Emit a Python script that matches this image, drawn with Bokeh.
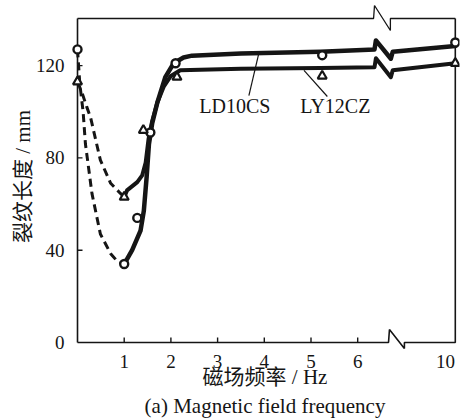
from bokeh.plotting import figure
from bokeh.models import Range1d, FixedTicker, Title, Label
from bokeh.embed import file_html
from bokeh.resources import INLINE

# ---------------- data ----------------
# x is the display position on the broken axis: 0..6.6 is Hz, 10 Hz sits at X10
X10 = 8.09
x_ticks = [1, 2, 3, 4, 5, 6, 7.88]
x_tick_labels = ["1", "2", "3", "4", "5", "6", "10"]
y_ticks = [0, 40, 80, 120]

# measured points (markers)
ld_x = [0, 1.0, 1.28, 1.56, 2.1, 5.24, X10]
ld_y = [127, 34, 54, 91, 121, 124.5, 130]
ly_x = [0, 1.0, 1.41, 2.13, 5.24, X10]
ly_y = [113, 63, 92, 115, 115.5, 121]

# fitted curves
ld_dash_x = [0, 0.05, 0.12, 0.17, 0.31, 0.49, 0.71, 0.86, 1.0]
ld_dash_y = [127, 112, 100, 86, 64.5, 47, 38.5, 35, 34]
ly_dash_x = [0, 0.1, 0.2, 0.28, 0.49, 0.71, 0.92, 1.0]
ly_dash_y = [113, 108, 102, 97.5, 79, 69, 64.6, 63]

ld_solid_x = [1.0, 1.17, 1.35, 1.42, 1.48, 1.53, 1.6, 1.71, 1.88, 2.06, 2.27, 2.45, 3.5, 5.2, 6.36]
ld_solid_y = [34, 40, 48.5, 57, 71.6, 86, 95, 104, 115, 121, 123.5, 124.3, 125.2, 126, 127]
ld_right_x = [6.75, X10]
ld_right_y = [126, 128.5]

ly_solid_x = [1.0, 1.06, 1.28, 1.385, 1.46, 1.52, 1.6, 1.71, 1.85, 2.0, 2.2, 3.5, 5.2, 6.36]
ly_solid_y = [63, 65.9, 69.5, 72.4, 78, 88, 96, 104, 111, 115.5, 118, 118.6, 119, 119.3]
ly_right_x = [6.75, X10]
ly_right_y = [118, 121]

# ---------------- figure ----------------
PX_X = 46.7   # pixels per x unit
PX_Y = 2.308  # pixels per y unit
Y_TOP = 140.4

p = figure(width=461, height=418, output_backend="svg", toolbar_location=None,
           x_range=Range1d(-0.15, 8.18), y_range=Range1d(-3.03, 146.9),
           min_border_left=70, min_border_right=2, min_border_top=3,
           min_border_bottom=69)
p.outline_line_color = None
p.grid.visible = False
p.background_fill_color = "white"

INK = "#151515"
SERIF = "Liberation Serif"
MIX = "Liberation Serif, Noto Sans CJK SC"

# axes: labels only, lines drawn below
for ax in (p.xaxis[0], p.yaxis[0]):
    ax.axis_line_color = None
    ax.major_tick_line_color = None
    ax.minor_tick_line_color = None
    ax.major_label_text_font = SERIF
    ax.major_label_text_font_size = "19px"
    ax.major_label_text_color = INK
    ax.axis_label_text_font = MIX
    ax.axis_label_text_font_size = "21px"
    ax.axis_label_text_font_style = "normal"
    ax.axis_label_text_color = INK

p.xaxis.ticker = FixedTicker(ticks=x_ticks)
p.xaxis.major_label_overrides = {t: s for t, s in zip(x_ticks, x_tick_labels)}
p.xaxis.major_label_standoff = -1
p.xaxis.axis_label = "磁场频率 / Hz"
p.xaxis.axis_label_standoff = -6

p.yaxis.ticker = FixedTicker(ticks=y_ticks)
p.yaxis.major_label_overrides = {t: str(t) for t in y_ticks}
p.yaxis.major_label_standoff = 0
p.yaxis.axis_label = "裂纹长度 / mm"
p.yaxis.axis_label_standoff = -2

p.add_layout(Title(text="(a) Magnetic field frequency", align="center",
                   text_font=SERIF, text_font_size="21px",
                   text_font_style="normal", text_color=INK, standoff=0), "below")

# frame with axis breaks
bx0, bx1 = 6.66, 7.0      # bottom break
tx0, tx1 = 6.34, 6.70     # top break
p.line([0, 0], [0, Y_TOP], line_color=INK, line_width=1.6)
p.line([0, bx0, bx0 + 0.02, bx1, bx1, X10, X10],
       [0, 0, 13 / PX_Y, -2.6, 0, 0, Y_TOP], line_color=INK, line_width=1.6)
p.line([0, tx0, tx0 + 0.02, tx1, tx1, X10],
       [Y_TOP, Y_TOP, Y_TOP + 13 / PX_Y, Y_TOP - 12 / PX_Y, Y_TOP, Y_TOP],
       line_color=INK, line_width=1.3)

# tick marks (inside)
xt = x_ticks[:6]
p.segment(x0=xt, y0=[0] * len(xt), x1=xt, y1=[5 / PX_Y] * len(xt), line_color=INK, line_width=1.4)
yt = y_ticks[1:]
p.segment(x0=[0] * len(yt), y0=yt, x1=[5 / PX_X] * len(yt), y1=yt, line_color=INK, line_width=1.4)

# curves
p.line(ld_dash_x, ld_dash_y, line_color=INK, line_width=3, line_dash="8 5")
p.line(ly_dash_x, ly_dash_y, line_color=INK, line_width=3, line_dash="8 5")


def with_zigzag(xs, ys, rx, ry):
    zx = xs + [xs[-1] + 0.03, rx[0] - 0.04] + rx
    zy = ys + [ys[-1] + 9 / PX_Y, ry[0] - 7 / PX_Y] + ry
    return zx, zy


zx, zy = with_zigzag(ld_solid_x, ld_solid_y, ld_right_x, ld_right_y)
p.line(zx, zy, line_color=INK, line_width=4.5, line_join="round", line_cap="round")
zx, zy = with_zigzag(ly_solid_x, ly_solid_y, ly_right_x, ly_right_y)
p.line(zx, zy, line_color=INK, line_width=4, line_join="round", line_cap="round")

# markers
p.scatter(ld_x, ld_y, marker="circle", size=8, fill_color="white",
          line_color=INK, line_width=2.4)
p.scatter(ly_x, ly_y, marker="triangle", size=9, fill_color="white",
          line_color=INK, line_width=2.2)

# curve labels with leader lines
p.line([3.88, 3.67], [125.1, 107], line_color=INK, line_width=1.2)
p.line([4.85, 5.35], [117.9, 106.6], line_color=INK, line_width=1.2)
for txt, x in (("LD10CS", 3.37), ("LY12CZ", 5.52)):
    p.add_layout(Label(x=x, y=102.5, text=txt, text_align="center",
                       text_baseline="middle", text_font=SERIF,
                       text_font_size="20px", text_color=INK))

open("out.html", "w").write(file_html(p, INLINE))
